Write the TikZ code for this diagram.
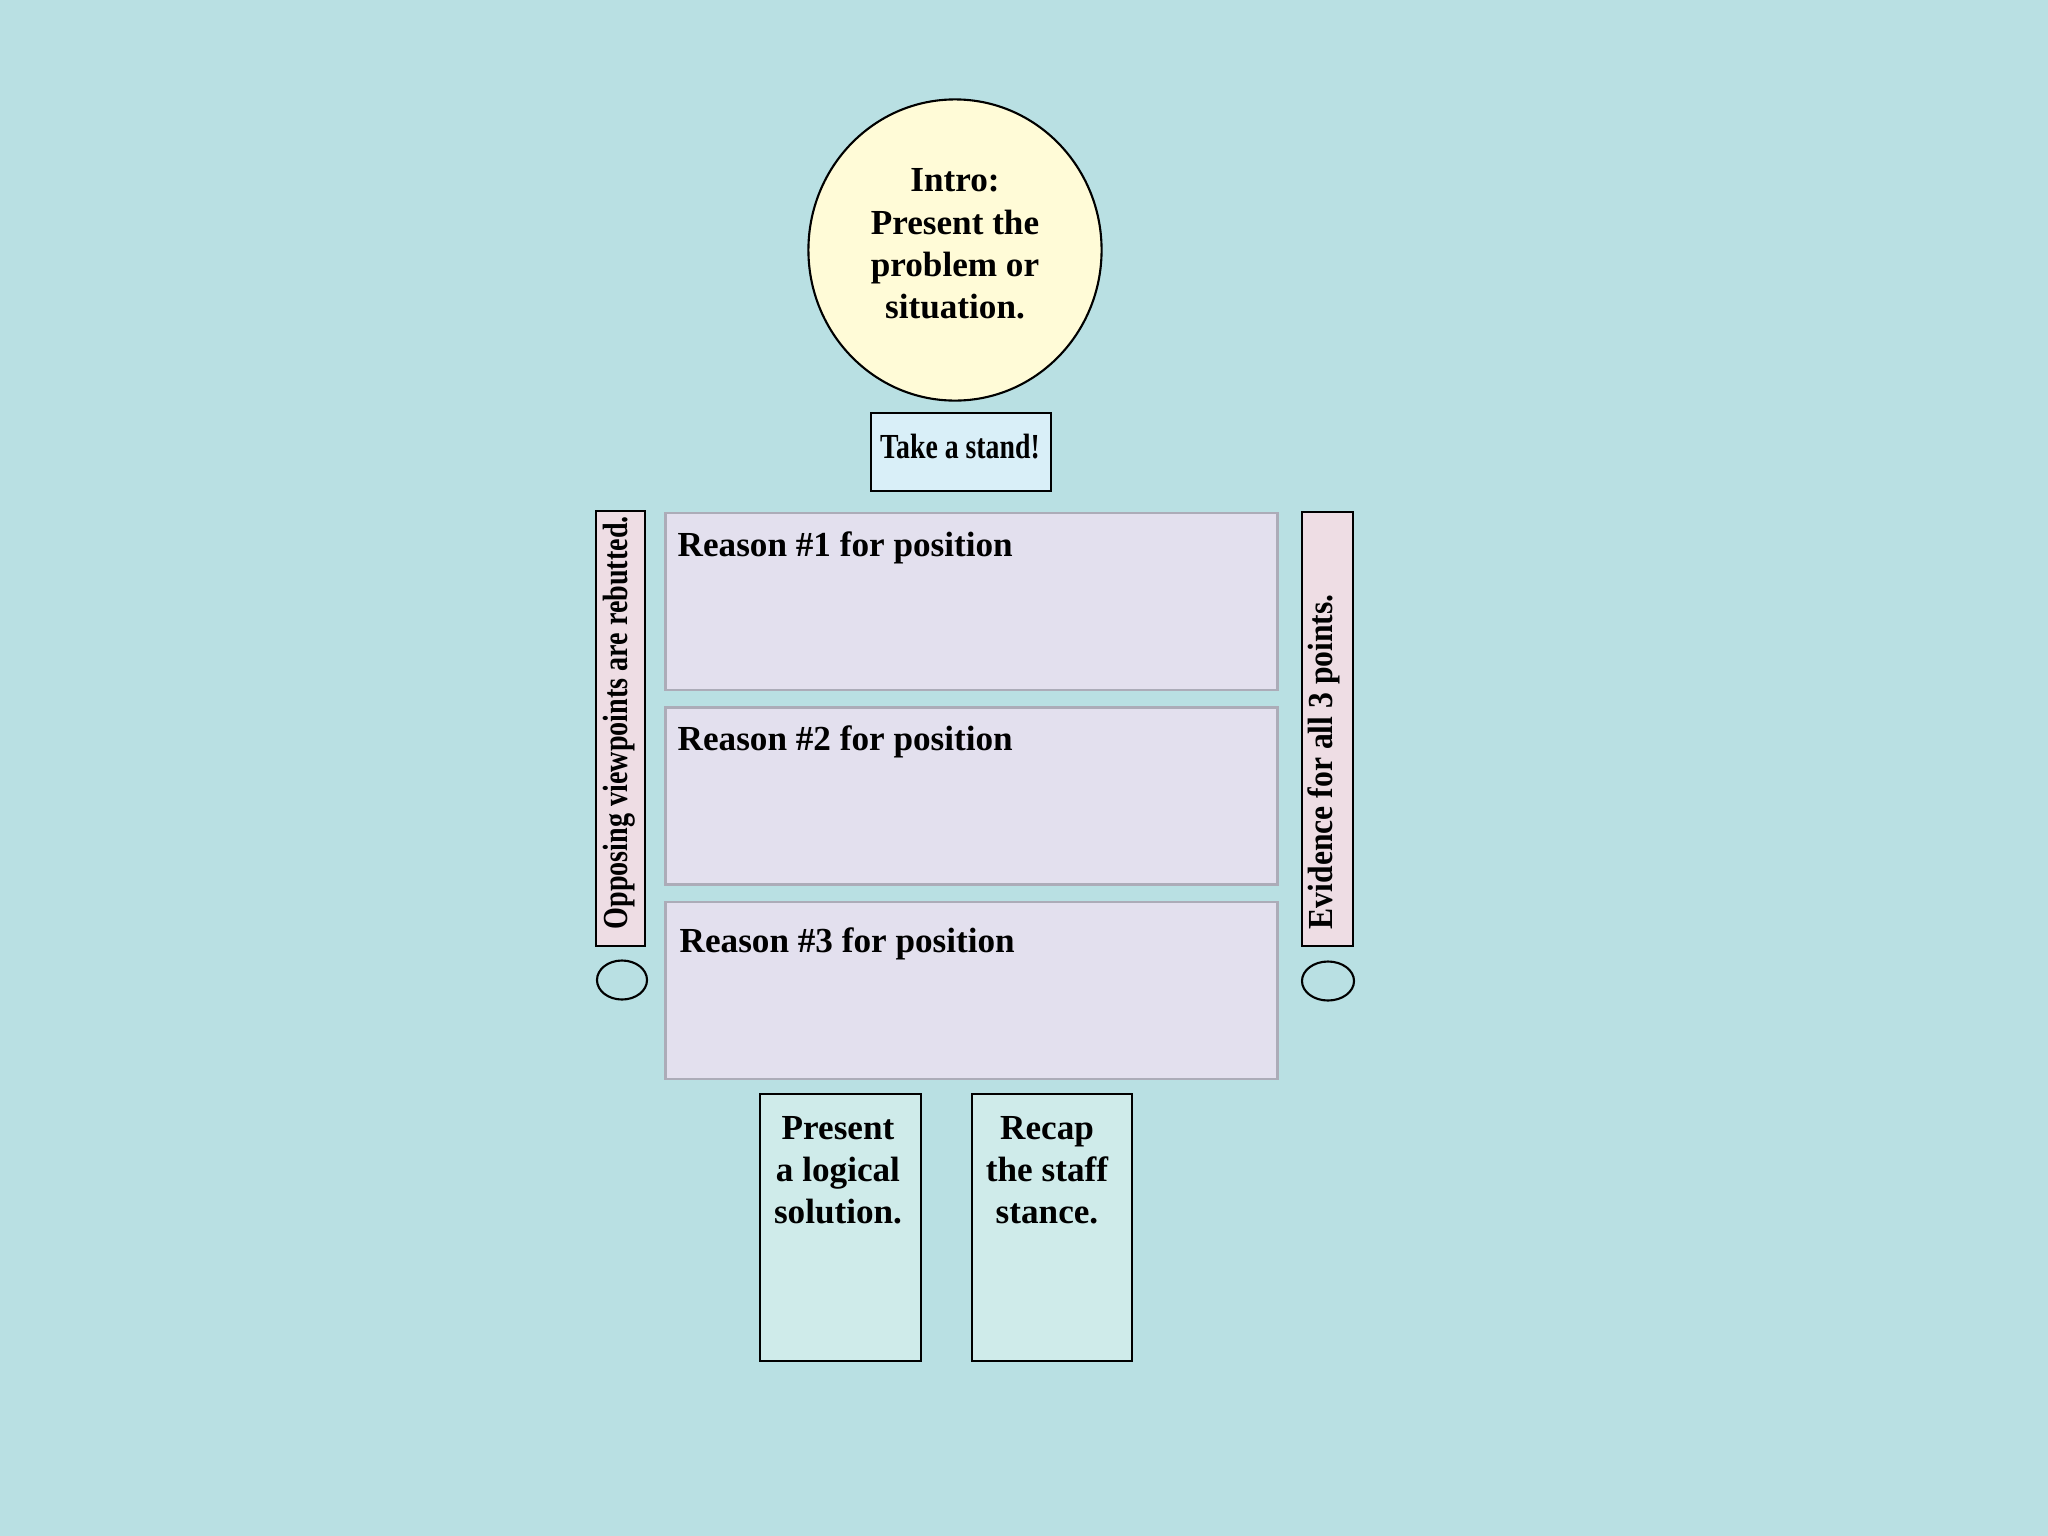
\documentclass[tikz,border=0pt]{standalone}
\usepackage{fontspec}
\setmainfont{Liberation Serif}
\usetikzlibrary{shapes.geometric}
\definecolor{bg}{RGB}{185,224,227}
\definecolor{introfill}{RGB}{255,251,215}
\definecolor{standfill}{RGB}{217,239,248}
\definecolor{reasonfill}{RGB}{227,224,238}
\definecolor{reasonline}{RGB}{172,172,184}
\definecolor{sidefill}{RGB}{238,221,228}
\definecolor{endfill}{RGB}{207,235,234}
\tikzset{
  blackbox/.style={draw=black, line width=0.6pt, rectangle, inner sep=0pt},
  reasonbox/.style={draw=reasonline, line width=0.8pt, fill=reasonfill, rectangle, inner sep=0pt, minimum width=6.11cm, minimum height=1.77cm},
  txt/.style={font=\fontsize{10}{12}\selectfont\bfseries, inner sep=0pt, align=center},
  oval/.style={draw=black, line width=0.6pt, ellipse, inner sep=0pt}
}
\begin{document}
\begin{tikzpicture}[x=0.01cm, y=-0.01cm]
\fill[bg] (0,0) rectangle (2048,1536);
\useasboundingbox (0,0) rectangle (2048,1536);

% intro
\node[draw=black, line width=0.6pt, fill=introfill, ellipse, inner sep=0pt, minimum width=2.93cm, minimum height=3.01cm] (intro) at (955,250) {};
\node[txt] (introtxt) at (955,244) {Intro:\\Present the\\problem or\\situation.};

% take a stand
\node[blackbox, fill=standfill, minimum width=1.8cm, minimum height=0.78cm] (stand) at (961,452) {};
\node[txt] (standtxt) at (960,447) {\scalebox{0.79}[1]{Take a stand!}};

% reasons
\node[reasonbox] (r1) at (971.5,601.5) {};
\node[reasonbox] (r2) at (971.5,796) {};
\node[reasonbox] (r3) at (971.5,990.5) {};
\node[txt, anchor=west] (r1txt) at (677,548) {Reason \#1 for position};
\node[txt, anchor=west] (r2txt) at (677,742) {Reason \#2 for position};
\node[txt, anchor=west] (r3txt) at (679,944) {Reason \#3 for position};

% side bars
\node[blackbox, fill=sidefill, minimum width=0.49cm, minimum height=4.35cm] (left) at (620.5,728.5) {};
\node[blackbox, fill=sidefill, minimum width=0.51cm, minimum height=4.34cm] (right) at (1327.5,729) {};
\node[txt, rotate=90, anchor=west] (lefttxt) at (619,930) {\scalebox{0.8}[1]{Opposing viewpoints are rebutted.}};
\node[txt, rotate=90, anchor=west] (righttxt) at (1324,930) {\scalebox{0.9}[1]{Evidence for all 3 points.}};

% small ovals
\node[oval, minimum width=0.5cm, minimum height=0.39cm] (lo) at (622,980) {};
\node[oval, minimum width=0.52cm, minimum height=0.39cm] (ro) at (1328,981) {};

% ending boxes
\node[blackbox, fill=endfill, minimum width=1.61cm, minimum height=2.67cm] (e1) at (840.5,1227.5) {};
\node[blackbox, fill=endfill, minimum width=1.60cm, minimum height=2.67cm] (e2) at (1052,1227.5) {};
\node[txt] (e1txt) at (838,1170) {Present\\a logical\\solution.};
\node[txt] (e2txt) at (1047,1170) {Recap\\the staff\\stance.};
\end{tikzpicture}
\end{document}
